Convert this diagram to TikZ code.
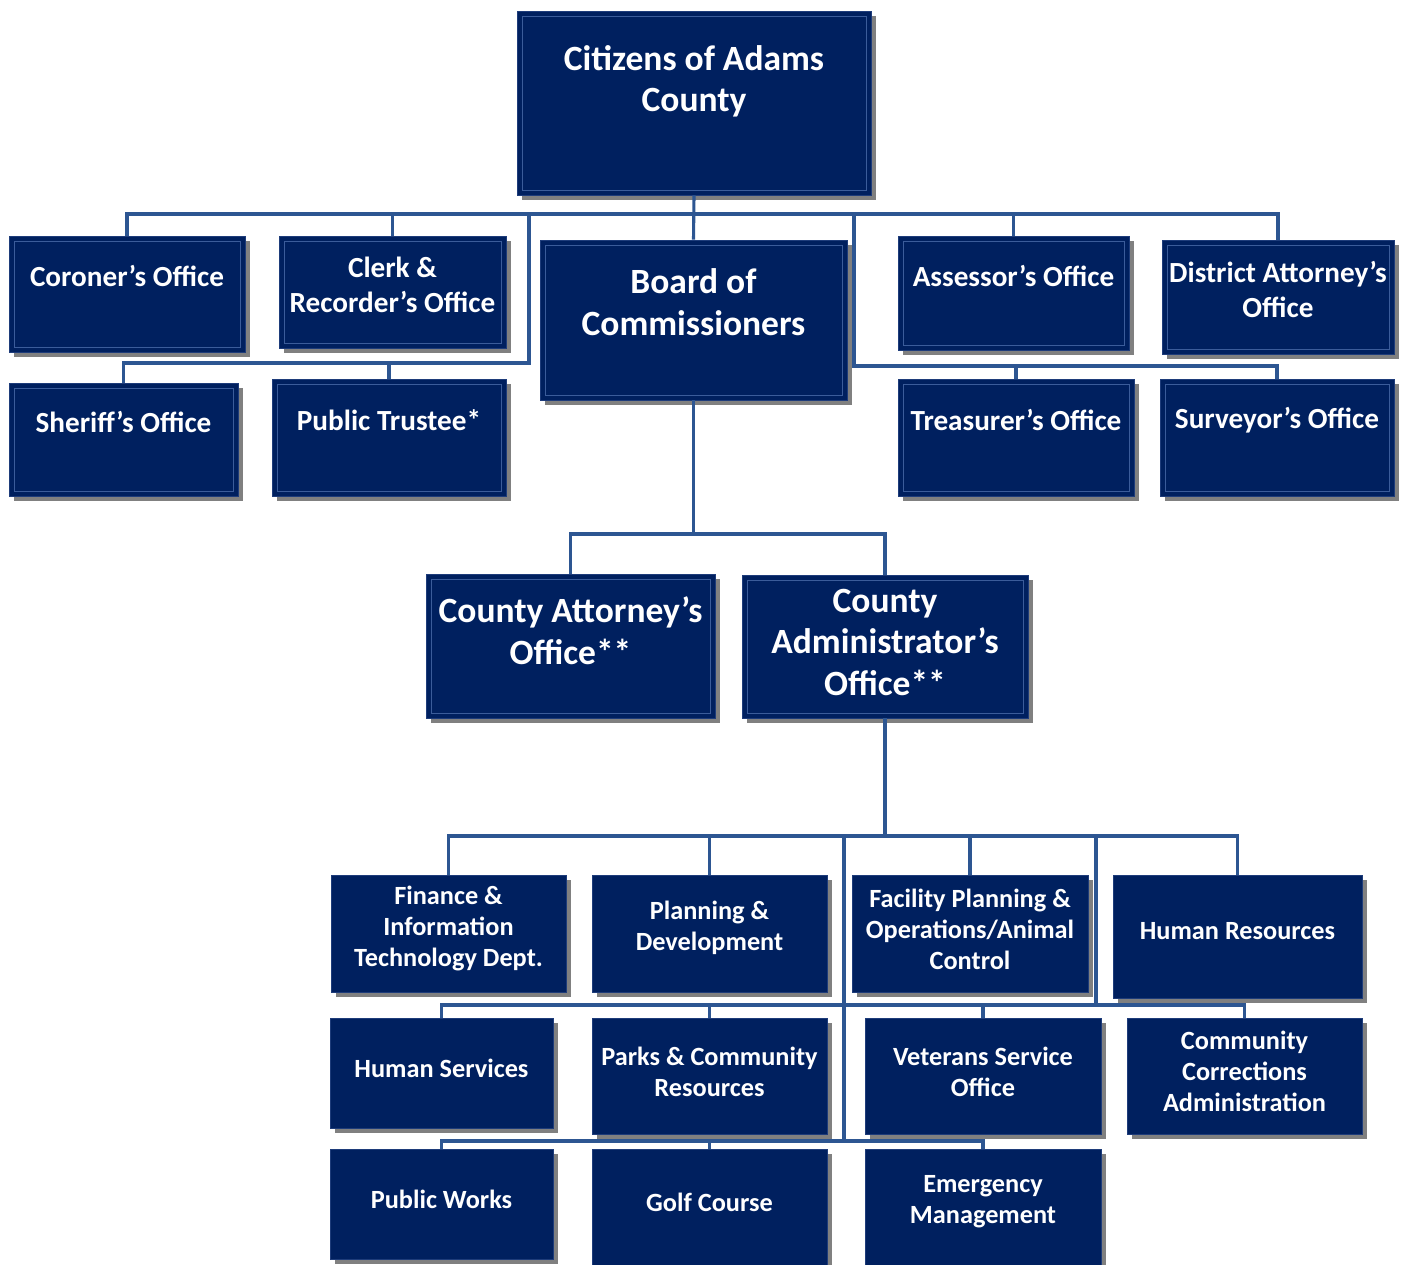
\documentclass[tikz,border=0pt]{standalone}
\usepackage{fontspec}
\setmainfont{Carlito}
\usetikzlibrary{shadows}
\definecolor{navy}{HTML}{00205F}
\definecolor{boxedge}{HTML}{1E3C7A}
\definecolor{innerline}{HTML}{3B5C9A}
\definecolor{connc}{HTML}{2D5692}
\definecolor{shade}{HTML}{808080}
\tikzset{
  basebox/.style={draw=boxedge, line width=0.8pt, fill=navy, inner sep=0pt,
    drop shadow={shadow xshift=4.5pt, shadow yshift=-4.5pt, fill=shade, opacity=1}},
  framedbox/.style={basebox,
    path picture={\draw[innerline, line width=0.8pt]
      ([shift={(5pt,-5pt)}]path picture bounding box.north west) rectangle
      ([shift={(-5pt,5pt)}]path picture bounding box.south east);}},
  bigtxt/.style={text=white, align=center, inner sep=0pt, font=\fontsize{35.5}{41.5}\selectfont\bfseries},
  midtxt/.style={text=white, align=center, inner sep=0pt, font=\fontsize{29.2}{34.5}\selectfont\bfseries},
  smalltxt/.style={text=white, align=center, inner sep=0pt, font=\fontsize{26.3}{31}\selectfont\bfseries},
  conn/.style={draw=connc, line width=3.1pt}
}
% #1 box style, #2 text style, #3 name, #4 left, #5 top, #6 right, #7 bottom, #8 text centre y, #9 text
\newcommand\orgbox[9]{%
  \pgfmathsetmacro\obw{#6-#4}\pgfmathsetmacro\obh{#7-#5}%
  \pgfmathsetmacro\obx{(#4+#6)/2}\pgfmathsetmacro\oby{(#5+#7)/2}%
  \pgfmathsetmacro\obdy{\oby-#8}%
  \node[#1, minimum width=\obw pt, minimum height=\obh pt,
    label={[#2, yshift=\obdy pt]center:{#9}}] (#3) at (\obx,\oby) {};}
\begin{document}
\begin{tikzpicture}[x=1pt, y=-1pt]
\useasboundingbox[fill=white] (0,0) rectangle (1404,1264);

\orgbox{framedbox}{bigtxt}{citizens}{517}{11}{871}{195}{81.5}{Citizens of Adams\\County}
\orgbox{framedbox}{midtxt}{coroner}{9}{236}{245}{352}{276}{Coroner’s Office}
\orgbox{framedbox}{midtxt}{clerk}{279}{236}{506}{348}{285}{Clerk \&\\Recorder’s Office}
\orgbox{framedbox}{bigtxt}{board}{540}{240}{847}{400}{302}{Board of\\Commissioners}
\orgbox{framedbox}{midtxt}{assessor}{898}{236}{1129}{350}{276}{Assessor’s Office}
\orgbox{framedbox}{midtxt}{da}{1162}{240}{1394}{354}{289.5}{District Attorney’s\\Office}
\orgbox{framedbox}{midtxt}{sheriff}{9}{383}{238}{496}{422}{Sheriff’s Office}
\orgbox{framedbox}{midtxt}{trustee}{272}{379}{506}{496}{420}{Public Trustee*}
\orgbox{framedbox}{midtxt}{treasurer}{898}{379}{1134}{496}{420}{Treasurer’s Office}
\orgbox{framedbox}{midtxt}{surveyor}{1160}{379}{1394}{496}{420}{Surveyor’s Office}
\orgbox{framedbox}{bigtxt}{attorney}{426}{574}{715}{718}{630.5}{County Attorney’s\\Office**}
\orgbox{framedbox}{bigtxt}{admin}{742}{575}{1028}{718}{642}{County\\Administrator’s\\Office**}

\orgbox{basebox}{smalltxt}{finance}{331}{875}{566}{992}{928}{Finance \&\\Information\\Technology Dept.}
\orgbox{basebox}{smalltxt}{planning}{592}{875}{827}{992}{928}{Planning \&\\Development}
\orgbox{basebox}{smalltxt}{facility}{852}{875}{1088}{992}{929.5}{Facility Planning \&\\Operations/Animal\\Control}
\orgbox{basebox}{smalltxt}{hr}{1113}{875}{1362}{998}{931}{Human Resources}
\orgbox{basebox}{smalltxt}{humserv}{330}{1018}{553}{1128}{1068}{Human Services}
\orgbox{basebox}{smalltxt}{parks}{592}{1018}{827}{1134}{1071.5}{Parks \& Community\\Resources}
\orgbox{basebox}{smalltxt}{veterans}{865}{1018}{1101}{1134}{1071.5}{Veterans Service\\Office}
\orgbox{basebox}{smalltxt}{cc}{1127}{1018}{1362}{1134}{1071.5}{Community\\Corrections\\Administration}
\orgbox{basebox}{smalltxt}{pw}{330}{1149}{553}{1259}{1199}{Public Works}
\orgbox{basebox}{smalltxt}{golf}{592}{1149}{827}{1280}{1202}{Golf Course}
\orgbox{basebox}{smalltxt}{emerg}{865}{1149}{1101}{1280}{1201.5}{Emergency\\Management}

% junction coordinates
\coordinate (topbus) at (694,214);
\coordinate (lj) at (529,214);
\coordinate (lj2) at (529,363);
\coordinate (rj) at (854,214);
\coordinate (rj2) at (854,366);
\coordinate (mj) at (693.5,534);
\coordinate (aj) at (885,836);
\coordinate (vj1) at (844,836);
\coordinate (vj1b) at (844,1141);
\coordinate (vj2) at (1096,836);
\coordinate (vj2b) at (1096,1005);

% top level
\draw[conn] (citizens.south) -- (board.north);
\draw[conn] (coroner.north) |- (topbus) -| (da.north);
\draw[conn] (clerk.north) -- (clerk.north |- topbus);
\draw[conn] (assessor.north) -- (assessor.north |- topbus);
\draw[conn] (lj) -- (lj2) -| (sheriff.north);
\draw[conn] (lj2) -| (trustee.north);
\draw[conn] (rj) -- (rj2) -| (surveyor.north);
\draw[conn] (rj2) -| (treasurer.north);
% middle
\draw[conn] (board.south) -- (mj);
\draw[conn] (attorney.north) |- (mj) -| (admin.north);
% lower
\draw[conn] (admin.south) -- (aj);
\draw[conn] (finance.north) |- (aj) -| (hr.north);
\draw[conn] (planning.north) -- (planning.north |- aj);
\draw[conn] (facility.north) -- (facility.north |- aj);
\draw[conn] (vj1) -- (vj1b);
\draw[conn] (vj2) -- (vj2b);
\draw[conn] (humserv.north) |- (vj2b) -| (cc.north);
\draw[conn] (parks.north) -- (parks.north |- vj2b);
\draw[conn] (veterans.north) -- (veterans.north |- vj2b);
\draw[conn] (pw.north) |- (vj1b) -| (emerg.north);
\draw[conn] (golf.north) -- (golf.north |- vj1b);
\end{tikzpicture}
\end{document}
